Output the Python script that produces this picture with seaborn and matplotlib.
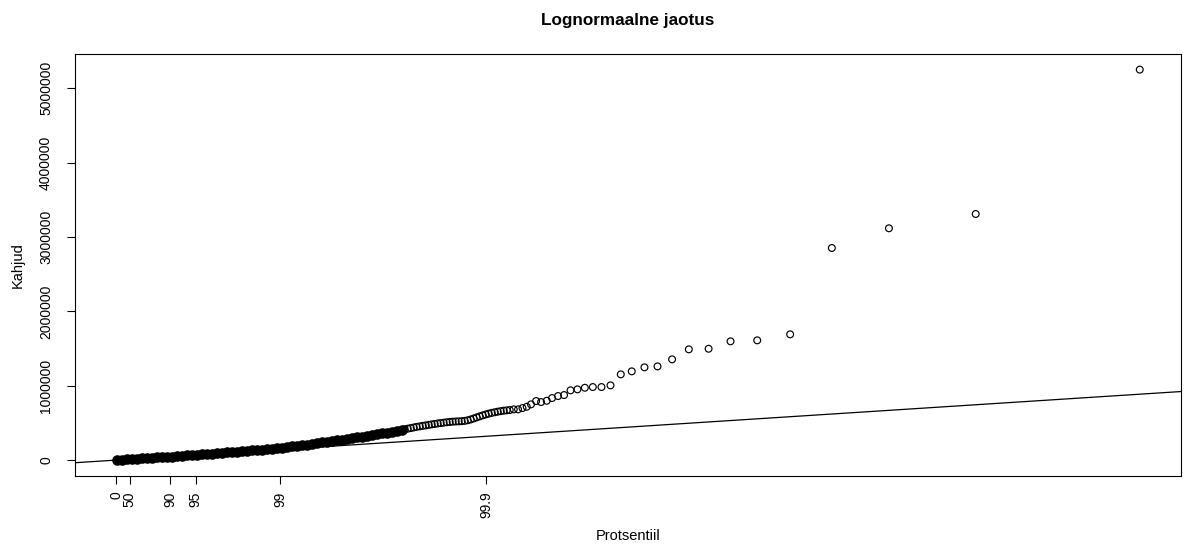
import matplotlib
matplotlib.use("Agg")
import matplotlib.pyplot as plt
import seaborn as sns
import pandas as pd

# ---------------- data ----------------
title = "Lognormaalne jaotus"
x_label = "Protsentiil"
y_label = "Kahjud"

# percentile tick labels and their theoretical-quantile positions
pct_labels = ["0", "50", "90", "95", "99", "99.9"]
pct_positions = [0, 11780, 46760, 68670, 142020, 320070]

y_ticks = [0, 1000000, 2000000, 3000000, 4000000, 5000000]

# dense body of the Q-Q plot (points overlap into a solid band)
dense_x = [260, 4590, 8920, 13250, 17580, 21910, 26240, 30570, 34900, 39230,
           43560, 47890, 52220, 56550, 60880, 65210, 69540, 73870, 78200, 82530,
           86860, 91190, 95520, 99850, 104180, 108510, 112840, 117170, 121500, 125830,
           130160, 134490, 138820, 143150, 147480, 151810, 156140, 160470, 164800, 169130,
           173460, 177790, 182120, 186450, 190780, 195110, 199440, 203770, 208100, 212430,
           216760, 221090, 225420, 229750, 234080, 238410, 242740, 247070]
dense_y = [0, 4000, 8100, 13500, 18800, 22900, 26900, 32300, 36300, 40400,
           43000, 47100, 52500, 56500, 61900, 67300, 72600, 78000, 82100, 87400,
           94200, 99500, 103600, 109000, 114300, 119700, 125100, 130500, 135900, 141200,
           146600, 153400, 160100, 166800, 174900, 182900, 191000, 199100, 208500, 217900,
           227300, 236800, 246200, 255600, 265000, 275800, 285200, 295900, 305400, 316100,
           326900, 337600, 348400, 359200, 369900, 382000, 395500, 407600]

# upper part: individual open circles
open_x = [249700, 252300, 254900, 257500, 260000, 262700, 265300, 267900, 270500, 273000,
          275600, 278200, 280800, 283400, 286000, 288600, 291200, 293800, 296400, 299000,
          301600, 304200, 306800, 309400, 312000, 314600, 317200, 319800, 322400, 325000,
          327600, 330200, 332800, 335400, 338000,
          340600, 344060, 347780, 351600, 355300, 359000, 363400, 367700, 372600, 377200,
          382400, 387600, 393200, 399200, 405600, 412500, 420000, 427800, 436700, 446200,
          457200, 468500, 481100, 495600, 512700, 531700, 554800, 583300, 619400, 668800,
          743900, 885900]
open_y = [414300, 422400, 430500, 438500, 446600, 453300, 460100, 466800, 473500, 480200,
          485600, 492300, 497700, 503100, 508500, 512500, 516600, 519200, 520600, 523300,
          527300, 535400, 546100, 559600, 574400, 587800, 601300, 613400, 624200, 634900,
          643000, 651100, 657800, 664500, 668600,
          672600, 682000, 682000, 699500, 717000, 749000, 793700, 780200, 797700, 834000,
          861000, 874400, 937600, 951000, 972600, 982000, 982000, 1004900, 1152800, 1193200,
          1247000, 1260000, 1354600, 1489000, 1497000, 1596700, 1610200, 1690900, 2851800, 3116800,
          3309200, 5250300]

line_intercept = 0
line_slope = 1

# ---------------- plotting ----------------
sns.set_style("white")
plt.rcParams["font.family"] = ["Liberation Sans", "DejaVu Sans"]
plt.rcParams["text.color"] = "black"
plt.rcParams["axes.labelcolor"] = "black"
plt.rcParams["xtick.color"] = "black"
plt.rcParams["ytick.color"] = "black"

W, H = 1187, 547
fig = plt.figure(figsize=(W / 100, H / 100), dpi=100)
left, right, top, bottom = 75.3, 1180.7, 54.0, 475.7
ax = fig.add_axes([left / W, 1 - bottom / H, (right - left) / W, (bottom - top) / H])

dense_df = pd.DataFrame({"q": dense_x, "v": dense_y})
open_df = pd.DataFrame({"q": open_x, "v": open_y})

sns.scatterplot(data=dense_df, x="q", y="v", ax=ax, color="black", s=58,
                linewidth=0, marker="o", legend=False, zorder=3)
sns.scatterplot(data=open_df, x="q", y="v", ax=ax, s=24, marker="o",
                legend=False, zorder=3)
coll = ax.collections[-1]
coll.set_facecolor("none")
coll.set_edgecolor("black")
coll.set_linewidth(0.85)

ax.margins(x=0.04, y=0.04)
ax.autoscale_view()
ax.axline((0, line_intercept), slope=line_slope, color="black", lw=0.9, zorder=2)

ax.set_xticks(pct_positions)
ax.set_xticklabels(pct_labels, rotation=90, va="top", ha="center")
ax.set_yticks(y_ticks)
ax.set_yticklabels([str(v) for v in y_ticks], rotation=90, va="center", ha="right")

ax.tick_params(axis="both", direction="out", length=6, width=0.8, color="black",
               labelsize=10, labelcolor="black", bottom=True, left=True)
ax.tick_params(axis="x", pad=5.5)
ax.tick_params(axis="y", pad=10)

for sp in ax.spines.values():
    sp.set_visible(True)
    sp.set_color("black")
    sp.set_linewidth(0.8)

ax.set_xlabel(x_label, fontsize=10.5, labelpad=8, color="black")
ax.set_ylabel(y_label, fontsize=10.5, labelpad=10, color="black")
fig.text((left + right) / 2 / W, 1 - 20 / H, title, ha="center", va="center",
         fontsize=12.3, fontweight="bold", color="black")

fig.savefig("out.png", dpi=100)
